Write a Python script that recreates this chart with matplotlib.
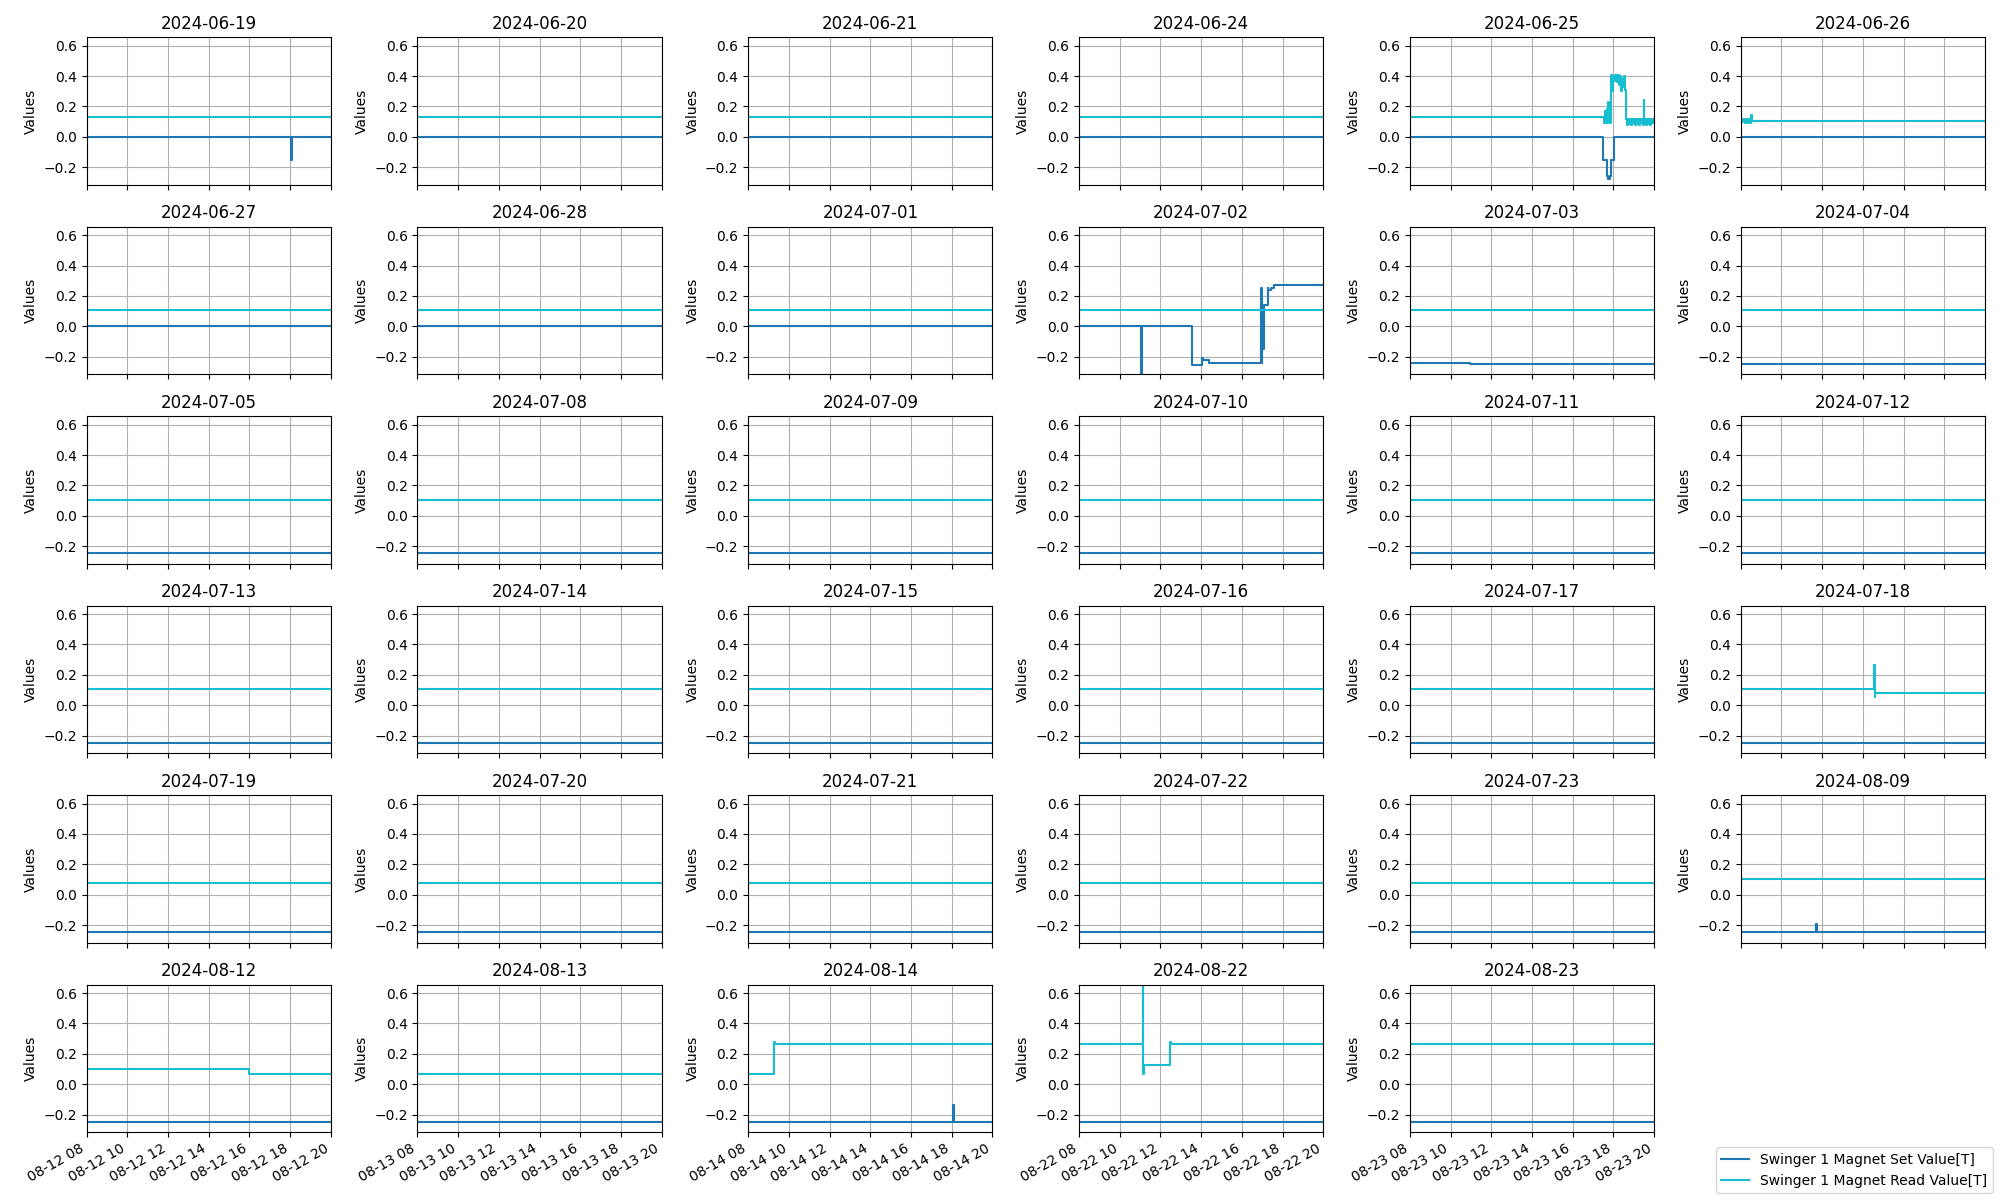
import pandas
import matplotlib
matplotlib.use("Agg")
import matplotlib.pyplot as plt
import matplotlib.dates as mdates


dates = ['2024-06-19', '2024-06-20', '2024-06-21', '2024-06-24', '2024-06-25', '2024-06-26',
	'2024-06-27', '2024-06-28', '2024-07-01', '2024-07-02', '2024-07-03', '2024-07-04',
	'2024-07-05', '2024-07-08', '2024-07-09', '2024-07-10', '2024-07-11', '2024-07-12',
	'2024-07-13', '2024-07-14', '2024-07-15', '2024-07-16', '2024-07-17', '2024-07-18',
	'2024-07-19', '2024-07-20', '2024-07-21', '2024-07-22', '2024-07-23', '2024-08-09',
	'2024-08-12', '2024-08-13', '2024-08-14', '2024-08-22', '2024-08-23']

# breakpoints per day: hour of day -> value (held until next breakpoint)
set_hours = [
	[8, 18.05, 18.1, 20],
	[8, 20], [8, 20], [8, 20],
	[8, 17.5, 17.66, 17.75, 17.85, 17.9, 18.03, 20],
	[8, 20], [8, 20], [8, 20], [8, 20],
	[8, 11.03, 11.07, 13.56, 14.02, 14.1, 14.4, 16.92, 16.98, 17.0, 17.02, 17.04, 17.06, 17.1, 17.26, 17.3, 17.45, 17.6, 20],
	[8, 10.95, 20],
	[8, 20], [8, 20], [8, 20], [8, 20], [8, 20], [8, 20], [8, 20],
	[8, 20], [8, 20], [8, 20], [8, 20], [8, 20], [8, 20],
	[8, 20], [8, 20], [8, 20], [8, 20], [8, 20],
	[8, 11.68, 11.75, 20],
	[8, 20], [8, 20],
	[8, 18.07, 18.12, 20],
	[8, 20],
	[8, 10.5, 20],
]
set_values = [
	[0, -0.155, 0, 0],
	[0, 0], [0, 0], [0, 0],
	[0, -0.152, -0.26, -0.28, -0.26, -0.155, 0, 0],
	[0, 0], [0, 0], [0, 0], [0, 0],
	[0, -0.33, 0, -0.255, -0.21, -0.225, -0.245, 0.255, -0.245, -0.02, -0.13, 0.0, -0.15, 0.143, 0.255, 0.24, 0.255, 0.272, 0.272],
	[-0.243, -0.247, -0.247],
	[-0.246, -0.246], [-0.246, -0.246], [-0.246, -0.246], [-0.246, -0.246], [-0.246, -0.246], [-0.246, -0.246], [-0.246, -0.246],
	[-0.246, -0.246], [-0.246, -0.246], [-0.246, -0.246], [-0.246, -0.246], [-0.246, -0.246], [-0.246, -0.246],
	[-0.246, -0.246], [-0.246, -0.246], [-0.246, -0.246], [-0.246, -0.246], [-0.246, -0.246],
	[-0.246, -0.19, -0.246, -0.246],
	[-0.246, -0.246], [-0.246, -0.246],
	[-0.246, -0.135, -0.246, -0.246],
	[-0.246, -0.246],
	[-0.25, -0.246, -0.246],
]

read_hours = [
	[8, 20], [8, 20], [8, 20], [8, 20],
	[8, 17.54, 17.58, 17.62, 17.66, 17.7, 17.74, 17.76, 17.8, 17.84, 17.88,
		17.9, 17.95, 18.0, 18.05, 18.1, 18.15, 18.2, 18.25, 18.3, 18.35, 18.4, 18.45, 18.5, 18.55,
		18.6, 18.65, 18.7, 18.75, 18.8, 18.85, 18.9, 18.95, 19.0, 19.05, 19.1, 19.15, 19.2, 19.25, 19.3, 19.35, 19.4,
		19.45, 19.48, 19.52, 19.55, 19.6, 19.65, 19.7, 19.75, 19.8, 19.85, 19.9, 19.95, 20],
	[8, 8.1, 8.2, 8.3, 8.4, 8.5, 8.55, 20],
	[8, 20], [8, 20], [8, 20], [8, 20], [8, 20], [8, 20],
	[8, 20], [8, 20], [8, 20], [8, 20], [8, 20], [8, 20],
	[8, 20], [8, 20], [8, 20], [8, 20], [8, 20],
	[8, 14.55, 14.58, 14.62, 20],
	[8, 20], [8, 20], [8, 20], [8, 20], [8, 20],
	[8, 20],
	[8, 15.97, 20],
	[8, 20],
	[8, 9.28, 9.3, 20],
	[8, 11.12, 11.15, 11.18, 12.48, 12.5, 20],
	[8, 20],
]
read_values = [
	[0.13, 0.13], [0.13, 0.13], [0.13, 0.13], [0.13, 0.13],
	[0.13, 0.09, 0.17, 0.1, 0.18, 0.09, 0.23, 0.1, 0.18, 0.09, 0.17,
		0.41, 0.3, 0.4, 0.37, 0.41, 0.36, 0.41, 0.34, 0.4, 0.3, 0.38, 0.33, 0.4, 0.31,
		0.12, 0.08, 0.12, 0.085, 0.115, 0.08, 0.12, 0.09, 0.115, 0.08, 0.12, 0.085, 0.12, 0.08, 0.115, 0.09, 0.12,
		0.08, 0.24, 0.09, 0.12, 0.08, 0.115, 0.085, 0.12, 0.08, 0.115, 0.09, 0.12, 0.1],
	[0.1, 0.12, 0.09, 0.12, 0.09, 0.145, 0.107, 0.107],
	[0.107, 0.107], [0.107, 0.107], [0.107, 0.107], [0.107, 0.107], [0.107, 0.107], [0.107, 0.107],
	[0.107, 0.107], [0.107, 0.107], [0.107, 0.107], [0.107, 0.107], [0.107, 0.107], [0.107, 0.107],
	[0.107, 0.107], [0.107, 0.107], [0.107, 0.107], [0.107, 0.107], [0.107, 0.107],
	[0.107, 0.265, 0.055, 0.083, 0.083],
	[0.08, 0.08], [0.08, 0.08], [0.08, 0.08], [0.08, 0.08], [0.08, 0.08],
	[0.103, 0.103],
	[0.103, 0.065, 0.065],
	[0.065, 0.065],
	[0.065, 0.28, 0.268, 0.268],
	[0.267, 0.7, 0.07, 0.128, 0.28, 0.267, 0.267],
	[0.267, 0.267],
]


def to_times(day, hours):
	return pandas.Timestamp(day) + pandas.to_timedelta(hours, unit='h')


fig, axes = plt.subplots(6, 6, figsize=(20, 12))
axes = axes.flatten()

for i, day in enumerate(dates):
	ax = axes[i]
	ax.plot(to_times(day, set_hours[i]), set_values[i], drawstyle='steps-post',
		color='tab:blue', label='Swinger 1 Magnet Set Value[T]')
	ax.plot(to_times(day, read_hours[i]), read_values[i], drawstyle='steps-post',
		color='tab:cyan', label='Swinger 1 Magnet Read Value[T]')
	ax.set_title(day)
	ax.set_ylabel('Values')
	ax.set_xlim(to_times(day, 8), to_times(day, 20))
	ax.set_ylim(-0.315, 0.655)
	ax.xaxis.set_major_locator(mdates.HourLocator(interval=2))
	ax.xaxis.set_major_formatter(mdates.DateFormatter('%m-%d %H'))
	ax.grid(True)

fig.delaxes(axes[35])

handles, labels = axes[0].get_legend_handles_labels()
fig.legend(handles, labels, loc='lower right')
fig.autofmt_xdate()
plt.tight_layout()
plt.savefig('out.png', dpi=100)
